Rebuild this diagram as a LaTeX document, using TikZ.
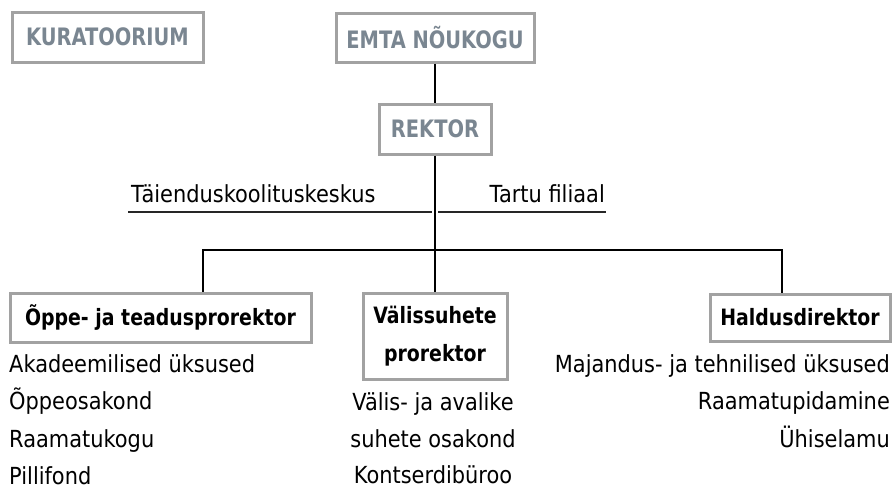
\documentclass[tikz,border=0pt]{standalone}
\usepackage{fontspec}
\setmainfont{DejaVu Sans}
\newfontfamily\topfont[FakeStretch=0.81]{DejaVu Sans}
\newfontfamily\itemfont[FakeStretch=0.89]{DejaVu Sans}
\newfontfamily\mgrfont[FakeStretch=0.84]{DejaVu Sans}
\definecolor{boxgray}{HTML}{A2A2A2}
\definecolor{topgray}{HTML}{7A8691}
\begin{document}
\begin{tikzpicture}[x=1pt,y=-1pt,
  box/.style={draw=boxgray, line width=3pt, fill=white, inner sep=0pt},
  toplabel/.style={box, text=topgray, font=\topfont\bfseries\fontsize{24}{24}\selectfont},
  mgr/.style={box, font=\mgrfont\bfseries\fontsize{22.5}{38}\selectfont, align=center},
  item/.style={font=\itemfont\fontsize{23.5}{23.5}\selectfont, inner sep=0pt},
  conn/.style={line width=1.6pt, black},
  uline/.style={line width=2pt, black!85}]
\useasboundingbox (0,0) rectangle (893,488);

% top boxes
\node[toplabel, minimum width=191pt, minimum height=50pt] (kur) at (107.5,37) {KURATOORIUM};
\node[toplabel, minimum width=198pt, minimum height=49pt] (emta) at (435,37.5) {EMTA NÕUKOGU};
\node[toplabel, minimum width=112pt, minimum height=50pt] (rek) at (435,129) {REKTOR};

% managers
\node[mgr, minimum width=301pt, minimum height=49pt] (oppe) at (160.5,317.5) {Õppe- ja teadusprorektor};
\node[mgr, minimum width=144pt, minimum height=86pt] (valis) at (435,336) {Välissuhete\\prorektor};
\node[mgr, minimum width=180pt, minimum height=47pt] (hald) at (800,317.5) {Haldusdirektor};

% side units
\node[item, anchor=base west] (taie) at (131,202) {Täienduskoolituskeskus};
\node[item, anchor=base east] (tartu) at (605,202) {Tartu filiaal};
\coordinate (u1a) at (128,212);
\coordinate (u1b) at (432,212);
\coordinate (u2a) at (438,212);
\coordinate (u2b) at (606,212);
\draw[uline] (u1a) -- (u1b);
\draw[uline] (u2a) -- (u2b);

% connectors
\coordinate (bl) at (203,250);
\coordinate (br) at (782,250);
\draw[conn] (emta.south) -- (rek.north);
\draw[conn] (rek.south) -- (valis.north);
\draw[conn] (bl |- oppe.north) -- (bl) -- (br) -- (br |- hald.north);

% lists
\node[item, anchor=base west] (a1) at (9,372) {Akadeemilised üksused};
\node[item, anchor=base west] (a2) at (9,409) {Õppeosakond};
\node[item, anchor=base west] (a3) at (9,447) {Raamatukogu};
\node[item, anchor=base west] (a4) at (9,484) {Pillifond};

\node[item, anchor=base] (b1) at (433,410) {Välis- ja avalike};
\node[item, anchor=base] (b2) at (433,447) {suhete osakond};
\node[item, anchor=base] (b3) at (433,483) {Kontserdibüroo};

\node[item, anchor=base east] (c1) at (890,372) {Majandus- ja tehnilised üksused};
\node[item, anchor=base east] (c2) at (890,409) {Raamatupidamine};
\node[item, anchor=base east] (c3) at (890,447) {Ühiselamu};
\end{tikzpicture}
\end{document}
